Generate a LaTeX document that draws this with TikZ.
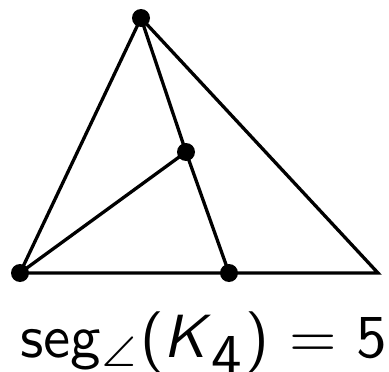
\documentclass[tikz,border=0pt]{standalone}
\usepackage{graphicx}
\usepackage{amssymb}
\begin{document}
\begin{tikzpicture}[x=1pt,y=-1pt,
  edge/.style={line width=3.3pt,line cap=round},
  vtx/.style={circle,fill=black,inner sep=0pt,minimum size=18pt}]
\useasboundingbox (0,0) rectangle (389,372);
\node[vtx] (t) at (141,18) {};
\node[vtx] (m) at (186,152) {};
\node[vtx] (l) at (20,273) {};
\node[vtx] (b) at (229,273) {};
\coordinate (r) at (378,273);
\draw[edge] (t.center) -- (l.center) -- (r) -- (t.center);
\draw[edge] (t.center) -- (m.center) -- (l.center);
\draw[edge] (m.center) -- (b.center);
\node[anchor=base,font=\sffamily,inner sep=0pt] (lab) at (204,357)
  {\scalebox{6.1}{seg$_{\angle}$(\textit{K}$_{\textsf{4}}$) $=$ 5}};
\end{tikzpicture}
\end{document}
